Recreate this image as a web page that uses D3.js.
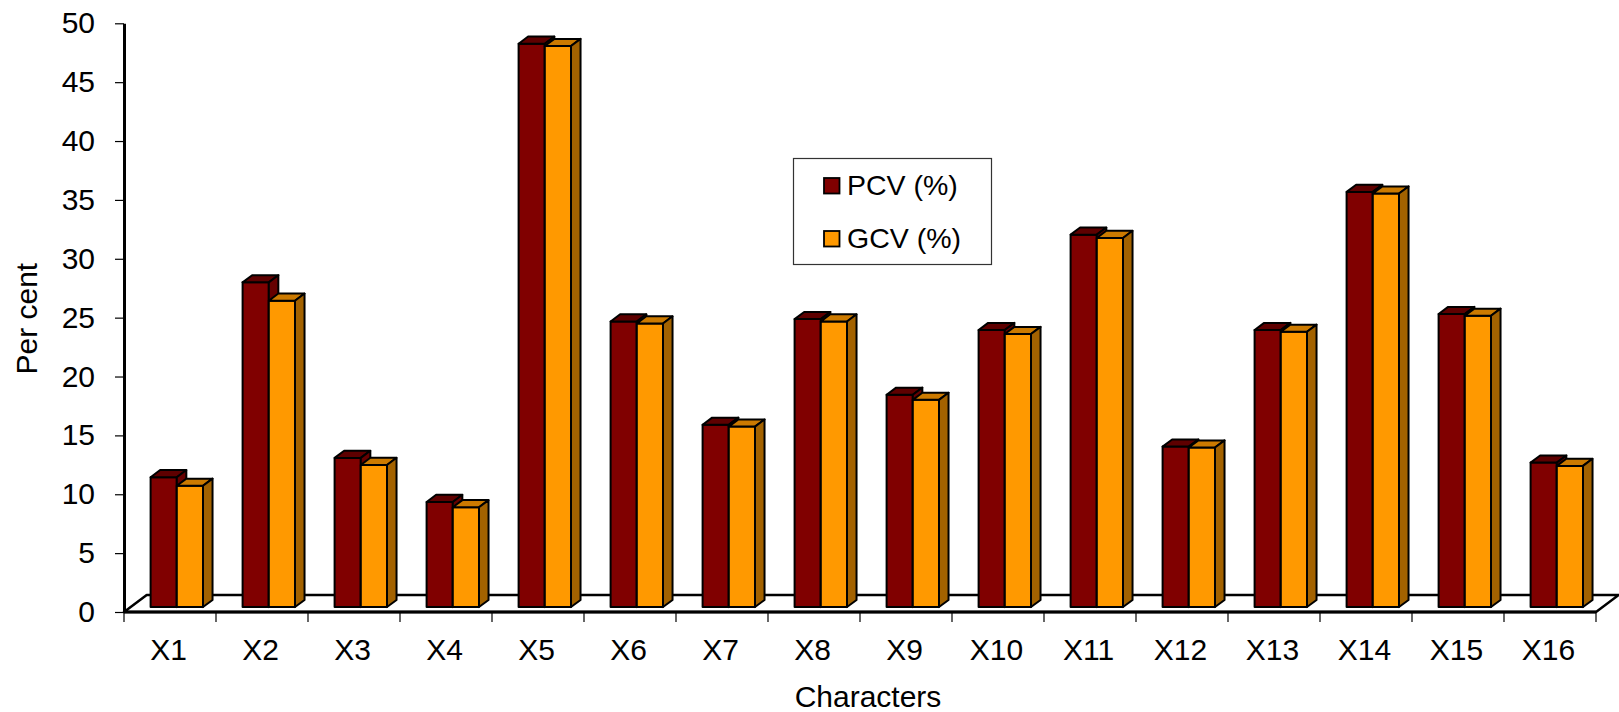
<!DOCTYPE html>
<html>
<head>
<meta charset="utf-8">
<script src="https://cdn.jsdelivr.net/npm/d3@7"></script>
<style>
  html, body { margin: 0; padding: 0; background: #fff; }
  svg { display: block; font-family: Arial, "Liberation Sans", sans-serif; }
</style>
</head>
<body>
<svg id="chart" width="1619" height="712"></svg>
<script>
// ---- data ----
const categories = ["X1","X2","X3","X4","X5","X6","X7","X8","X9","X10","X11","X12","X13","X14","X15","X16"];
const pcv = [11.03, 27.58, 12.67, 8.93, 47.85, 24.26, 15.48, 24.46, 18.03, 23.53, 31.63, 13.63, 23.53, 35.26, 24.89, 12.27];
const gcv = [10.30, 26.02, 12.07, 8.48, 47.65, 24.09, 15.33, 24.26, 17.60, 23.19, 31.35, 13.55, 23.38, 35.12, 24.74, 11.99];
const seriesNames = ["PCV (%)", "GCV (%)"];
const yTicks = [0, 5, 10, 15, 20, 25, 30, 35, 40, 45, 50];
const yTitle = "Per cent";
const xTitle = "Characters";

// ---- layout ----
const svg = d3.select("#chart");
const X0 = 124, X1 = 1596;
const Y0 = 612, YTOP = 23.3;
const floorD = [22.7, -17];        // floor depth vector
const barFront = 0.29, barBack = 0.71;
const barD = [floorD[0] * (barBack - barFront), floorD[1] * (barBack - barFront)];
const frontShift = [floorD[0] * barFront, floorD[1] * barFront];

const x = d3.scaleBand().domain(categories).range([X0, X1]).paddingInner(0).paddingOuter(0);
const y = d3.scaleLinear().domain([0, 50]).range([Y0, YTOP]);

const colors = [
  { front: "#800000", top: "#5e0000", side: "#660000" },
  { front: "#FF9900", top: "#CC7A00", side: "#A36200" }
];

// floor
const fp = [[X0, Y0], [X1, Y0], [X1 + floorD[0], Y0 + floorD[1]], [X0 + floorD[0], Y0 + floorD[1]]];
svg.append("path")
  .attr("d", "M" + fp.map(p => p.join(",")).join("L") + "Z")
  .attr("fill", "#fff").attr("stroke", "#000").attr("stroke-width", 2.5).attr("stroke-linejoin", "round");

// y axis
const yAxis = d3.axisLeft(y).tickValues(yTicks).tickSize(9).tickPadding(20).tickSizeOuter(0);
const gy = svg.append("g").attr("transform", `translate(${X0},0)`).call(yAxis);
gy.select(".domain").attr("stroke", "#000").attr("stroke-width", 3);
gy.selectAll(".tick line").attr("stroke", "#000").attr("stroke-width", 1.2);
gy.selectAll(".tick text").attr("font-size", 30).attr("fill", "#000")
  .attr("font-family", "Arial, 'Liberation Sans', sans-serif");

// x axis (category ticks at boundaries)
const gx = svg.append("g").attr("transform", `translate(0,${Y0})`);
gx.append("line").attr("x1", X0).attr("x2", X1).attr("y1", 0).attr("y2", 0)
  .attr("stroke", "#000").attr("stroke-width", 3);
const bounds = categories.map(c => x(c)).concat([X1]);
gx.selectAll("line.tk").data(bounds).join("line").attr("class", "tk")
  .attr("x1", d => d).attr("x2", d => d).attr("y1", 0).attr("y2", 10)
  .attr("stroke", "#000").attr("stroke-width", 1.2);
gx.selectAll("text").data(categories).join("text")
  .attr("x", d => x(d) + x.bandwidth() / 2 - 1.5)
  .attr("y", 48)
  .attr("text-anchor", "middle")
  .attr("font-size", 30).attr("fill", "#000")
  .text(d => d);

// bars
const bw = x.bandwidth();
const barW = 26.2;
const barOffset = 26.6 - frontShift[0]; // in floor-front coords
const baseY = Y0 + frontShift[1];

function poly(pts) { return "M" + pts.map(p => p.join(",")).join("L") + "Z"; }

const data = [pcv, gcv];
categories.forEach((c, i) => {
  const g = svg.append("g");
  data.forEach((vals, s) => {
    const v = vals[i];
    const xl = x(c) + barOffset + frontShift[0] + s * barW;
    const xr = xl + barW;
    const yt = baseY - (Y0 - y(v));
    const col = colors[s];
    // front
    g.append("path").attr("d", poly([[xl, baseY], [xr, baseY], [xr, yt], [xl, yt]]))
      .attr("fill", col.front).attr("stroke", "#000").attr("stroke-width", 2).attr("stroke-linejoin", "round");
    // top
    g.append("path").attr("d", poly([[xl, yt], [xr, yt], [xr + barD[0], yt + barD[1]], [xl + barD[0], yt + barD[1]]]))
      .attr("fill", col.top).attr("stroke", "#000").attr("stroke-width", 2).attr("stroke-linejoin", "round");
    // side
    g.append("path").attr("d", poly([[xr, yt], [xr + barD[0], yt + barD[1]], [xr + barD[0], baseY + barD[1]], [xr, baseY]]))
      .attr("fill", col.side).attr("stroke", "#000").attr("stroke-width", 2).attr("stroke-linejoin", "round");
  });
});

// axis titles
svg.append("text")
  .attr("transform", `translate(36.5,${318.7}) rotate(-90)`)
  .attr("text-anchor", "middle")
  .attr("font-size", 30).attr("fill", "#000")
  .text(yTitle);
svg.append("text")
  .attr("x", 868).attr("y", 707)
  .attr("text-anchor", "middle")
  .attr("font-size", 30).attr("fill", "#000")
  .text(xTitle);

// legend
const lg = svg.append("g");
lg.append("rect").attr("x", 793.5).attr("y", 158.5).attr("width", 198).attr("height", 106)
  .attr("fill", "#fff").attr("stroke", "#333").attr("stroke-width", 1.2);
const legendY = [185.5, 238.5];
seriesNames.forEach((name, s) => {
  lg.append("rect").attr("x", 824).attr("y", legendY[s] - 7.5).attr("width", 15.5).attr("height", 15.5)
    .attr("fill", colors[s].front).attr("stroke", "#000").attr("stroke-width", 1.8);
  lg.append("text").attr("x", 847).attr("y", legendY[s]).attr("dy", "0.35em")
    .attr("font-size", 28.5).attr("fill", "#000").text(name);
});
</script>
</body>
</html>
